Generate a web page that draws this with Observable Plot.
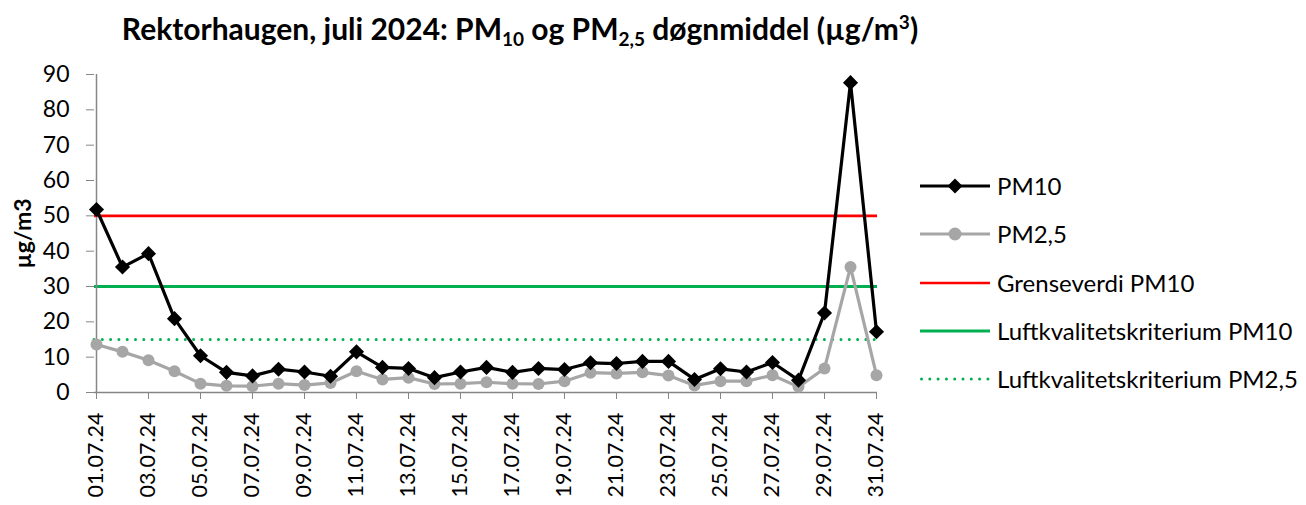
<!DOCTYPE html>
<html>
<head>
<meta charset="utf-8">
<script src="https://cdn.jsdelivr.net/npm/d3@7"></script>
<script src="https://cdn.jsdelivr.net/npm/@observablehq/plot@0.6"></script>
<style>
  html, body { margin: 0; padding: 0; background: #fff; }
  body { width: 1306px; height: 505px; position: relative; overflow: hidden; font-family: Lato, "Open Sans", sans-serif; }
  #title { position: absolute; left: 0; top: 10px; width: 1040px; text-align: center; font-weight: bold; font-size: 30px; color: #000; white-space: nowrap; line-height: 36px; }
  #title sub { font-size: 19px; vertical-align: -6px; line-height: 0; }
  #title sup { font-size: 19px; vertical-align: 11px; line-height: 0; }
  #chart { position: absolute; left: 0; top: 50px; }
  #legend { position: absolute; left: 920px; top: 0; }
  .item { position: absolute; left: 0; width: 400px; height: 30px; }
  .item svg { position: absolute; left: 0; top: 0; }
  .item span { position: absolute; left: 77px; top: 0px; font-size: 24px; color: #000; white-space: nowrap; line-height: 30px; }
  svg text { font-family: Lato, "Open Sans", sans-serif; }
  g[aria-label="y-axis label"] text { font-weight: bold; }
</style>
</head>
<body>
<div id="title">Rektorhaugen, juli 2024: PM<sub>10</sub> og PM<sub>2,5</sub> døgnmiddel (µg/m<sup>3</sup>)</div>
<div id="chart"></div>
<div id="legend"></div>
<script>
const dates = ["01.07.24","02.07.24","03.07.24","04.07.24","05.07.24","06.07.24","07.07.24","08.07.24","09.07.24","10.07.24",
  "11.07.24","12.07.24","13.07.24","14.07.24","15.07.24","16.07.24","17.07.24","18.07.24","19.07.24","20.07.24",
  "21.07.24","22.07.24","23.07.24","24.07.24","25.07.24","26.07.24","27.07.24","28.07.24","29.07.24","30.07.24","31.07.24"];
const pm10 = [51.8,35.5,39.3,20.9,10.4,5.7,4.7,6.6,5.8,4.6,11.5,7.1,6.8,4.2,5.8,7.1,5.7,6.8,6.5,8.4,8.2,8.8,8.8,3.7,6.7,5.8,8.5,3.5,22.5,87.7,17.2];
const pm25 = [13.6,11.5,9.1,6.0,2.5,1.9,1.8,2.5,2.1,2.7,6.0,3.7,4.2,2.4,2.5,2.9,2.5,2.4,3.2,5.6,5.4,5.7,4.8,2.0,3.2,3.2,4.9,1.6,6.8,35.5,4.9];
const grenseverdiPM10 = 50;
const kriteriumPM10 = 30;
const kriteriumPM25 = 15;
const yTicks = [0,10,20,30,40,50,60,70,80,90];
const xTickLabels = dates.filter((d, i) => i % 2 === 0);
const legendLabels = ["PM10","PM2,5","Grenseverdi PM10","Luftkvalitetskriterium PM10","Luftkvalitetskriterium PM2,5"];

const colors = { pm10: "#000000", pm25: "#A6A6A6", red: "#FF0000", green: "#00B050", axis: "#868686" };

const rows = dates.map((d, i) => ({ date: d, pm10: pm10[i], pm25: pm25[i] }));

const chart = Plot.plot({
  width: 1306,
  height: 455,
  marginTop: 24,
  marginBottom: 113,
  marginLeft: 94,
  marginRight: 429,
  style: { fontSize: "22px", color: "#000", background: "transparent" },
  x: { type: "point", domain: dates, padding: 0 },
  y: { domain: [0, 90] },
  marks: [
    Plot.ruleY([grenseverdiPM10], { stroke: colors.red, strokeWidth: 2.6 }),
    Plot.ruleY([kriteriumPM10], { stroke: colors.green, strokeWidth: 3 }),
    Plot.ruleY([kriteriumPM25], { stroke: colors.green, strokeWidth: 3, strokeDasharray: "0 8.3", strokeLinecap: "round" }),
    Plot.ruleX([dates[0]], { stroke: colors.axis, strokeWidth: 1.5 }),
    Plot.ruleY([0], { stroke: colors.axis, strokeWidth: 1.5 }),
    Plot.axisY({ ticks: yTicks, tickSize: 8, tickPadding: 17, stroke: colors.axis, fill: "#000", label: "µg/m3", labelArrow: "none", labelAnchor: "center", labelOffset: 80, fontSize: 23 }),
    Plot.axisX({ ticks: xTickLabels, tickSize: 7, tickPadding: 13, tickRotate: -90, stroke: colors.axis, fill: "#000", label: null, fontSize: 21.5 }),
    Plot.lineY(rows, { x: "date", y: "pm25", stroke: colors.pm25, strokeWidth: 3.2 }),
    Plot.dot(rows, { x: "date", y: "pm25", r: 6, fill: colors.pm25, stroke: "none" }),
    Plot.lineY(rows, { x: "date", y: "pm10", stroke: colors.pm10, strokeWidth: 3.2 }),
    Plot.dot(rows, { x: "date", y: "pm10", symbol: "diamond2", r: 6.8, fill: colors.pm10, stroke: "none" })
  ]
});
document.getElementById("chart").appendChild(chart);

// legend
const legend = document.getElementById("legend");
const legendY = [171, 219, 268, 316, 364];
const legendKinds = ["pm10", "pm25", "red", "green", "greenDot"];
legendLabels.forEach((lab, i) => {
  const item = document.createElement("div");
  item.className = "item";
  item.style.top = legendY[i] + "px";
  const kind = legendKinds[i];
  let svg = `<svg width="72" height="30">`;
  if (kind === "pm10") {
    svg += `<line x1="0" y1="15" x2="70" y2="15" stroke="${colors.pm10}" stroke-width="3.2"/>`;
    svg += `<path d="M35,7.5 L42.5,15 L35,22.5 L27.5,15 Z" fill="${colors.pm10}"/>`;
  } else if (kind === "pm25") {
    svg += `<line x1="0" y1="15" x2="70" y2="15" stroke="${colors.pm25}" stroke-width="3.2"/>`;
    svg += `<circle cx="35" cy="15" r="6.5" fill="${colors.pm25}"/>`;
  } else if (kind === "red") {
    svg += `<line x1="0" y1="15" x2="70" y2="15" stroke="${colors.red}" stroke-width="2.6"/>`;
  } else if (kind === "green") {
    svg += `<line x1="0" y1="15" x2="70" y2="15" stroke="${colors.green}" stroke-width="3"/>`;
  } else {
    svg += `<line x1="1.5" y1="15" x2="70" y2="15" stroke="${colors.green}" stroke-width="3" stroke-dasharray="0 8.3" stroke-linecap="round"/>`;
  }
  svg += `</svg>`;
  item.innerHTML = svg + `<span>${lab}</span>`;
  legend.appendChild(item);
});
</script>
</body>
</html>
